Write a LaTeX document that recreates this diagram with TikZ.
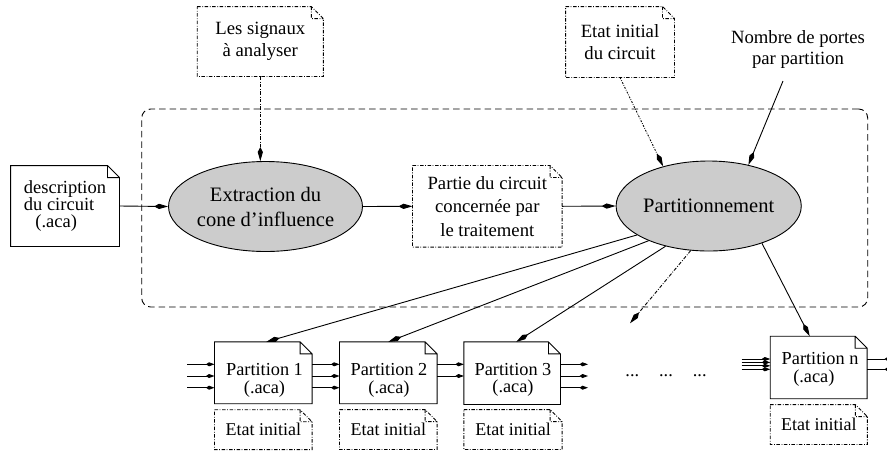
\documentclass[tikz,border=0pt]{standalone}
\usepackage{fontspec}
\setmainfont{Liberation Serif}
\usetikzlibrary{arrows.meta,shapes.geometric}

% outline of a note with a folded top-right corner, drawn round node #2
\newcommand\notefold[2][]{%
  \draw[#1] (#2.north west) -- ([xshift=-12pt]#2.north east)
    -- ([yshift=-12pt]#2.north east) -- (#2.south east) -- (#2.south west) -- cycle
    ([xshift=-12pt]#2.north east) |- ([yshift=-12pt]#2.north east);}

\begin{document}
\begin{tikzpicture}[x=1pt,y=-1pt,line width=0.9pt,
  ell/.style={ellipse,draw,fill=gray!40,minimum width=172pt,minimum height=90pt,
    inner sep=0pt,align=center,font=\fontsize{20.5}{25}\selectfont},
  note/.style={inner sep=0pt,align=center,font=\fontsize{18.7}{22.5}\selectfont},
  ptext/.style={inner sep=0pt,align=center,font=\fontsize{18.3}{17.5}\selectfont},
  etat/.style={note,minimum height=39pt,font=\fontsize{18}{20}\selectfont},
  dashdot/.style={dash pattern=on 3.5pt off 1.6pt on 0.8pt off 1.6pt},
  dotline/.style={dash pattern=on 1.8pt off 1.4pt on 0.7pt off 1.4pt},
  link/.style={-{Kite[length=14pt,width=5.2pt,inset=5pt]}},
  flow/.style={-{Kite[length=8.5pt,width=4pt,inset=3pt]}},
  zone/.style={draw,dash pattern=on 6.5pt off 4pt,rounded corners=9pt}]

\useasboundingbox (0,0) rectangle (887,451);

% processing frame
\node[zone,minimum width=726pt,minimum height=198pt] (frame) at (504.7,208) {};

% inputs
\node[note,minimum width=108pt,minimum height=80pt,
  align=left,font=\fontsize{18.5}{17}\selectfont] (desc) at (65,206)
  {description\\du circuit\\\hspace{11.5pt}(.aca)};
\notefold{desc}
\node[note,minimum width=125.3pt,minimum height=69pt] (LS) at (260.3,41.5)
  {Les signaux\\à analyser};
\notefold[dashdot]{LS}
\node[note,minimum width=108pt,minimum height=70pt] (EC) at (620,42)
  {Etat initial\\du circuit};
\notefold[dashdot]{EC}
\node[note,font=\fontsize{18.7}{21}\selectfont] (NB) at (798,49.5)
  {Nombre de portes\\par partition};
\coordinate (nbstart) at (783,81);

% processing steps
\node[ell] (Ex) at (265.5,206.5) {Extraction du\\cone d'influence};
\node[note,minimum width=148.7pt,minimum height=80.7pt,
  font=\fontsize{18.7}{23.3}\selectfont] (Pa) at (487.3,206.3)
  {Partie du circuit\\concernée par\\le traitement};
\notefold[dashdot]{Pa}
\node[ell] (Pt) at (708.7,206) {Partitionnement};

\draw[link] (desc.east) -- (Ex.west);
\draw[link,dashdot] (LS.south) -- (LS.south |- Ex.north);
\draw[link] (Ex.east) -- (Pa.west);
\draw[link] (Pa.east) -- (Pt.west);
\draw[link,dotline] (EC.south) -- (Pt.139);
\draw[link] (nbstart) -- (Pt.46);

% partitions
\node[minimum width=96.7pt,minimum height=61pt,inner sep=0pt] (P1) at (263.3,372.8) {};
\node[minimum width=96.7pt,minimum height=61pt,inner sep=0pt] (P2) at (388.3,372.8) {};
\node[minimum width=95.7pt,minimum height=61.7pt,inner sep=0pt] (P3) at (512.2,373.2) {};
\node[minimum width=96pt,minimum height=61.6pt,inner sep=0pt] (Pn) at (818.7,367.5) {};
\foreach \p in {P1,P2,P3,Pn} {\notefold{\p}}
\node[ptext] (P1t) at (264.5,380.5) {Partition 1\\(.aca)};
\node[ptext] (P2t) at (389,380.5) {Partition 2\\(.aca)};
\node[ptext] (P3t) at (513,380) {Partition 3\\(.aca)};
\node[ptext,align=left] (Pnt) at (820.1,369.6) {Partition n\\\hspace{11.6pt}(.aca)};

\node[etat,minimum width=96.7pt] (E1) at (263.3,429.7) {Etat initial};
\node[etat,minimum width=96.7pt] (E2) at (388.3,429.5) {Etat initial};
\node[etat,minimum width=97.4pt] (E3) at (513,429.5) {Etat initial};
\node[etat,minimum width=96.3pt] (En) at (818.8,424.5) {Etat initial};
\foreach \e in {E1,E2,E3,En} {\notefold[dashdot]{\e}}

\node[inner sep=0pt,anchor=base west,font=\fontsize{18.3}{20}\selectfont] (dots)
  at (625,376) {...\hspace{20pt}...\hspace{20pt}...};

% from the partitioner to each partition
\coordinate (more) at (630,323.3);
\draw[link] (Pt.202) -- ([xshift=3pt]P1.north);
\draw[link] (Pt.210.6) -- (P2.north);
\draw[link] (Pt.223) -- ([xshift=4pt]P3.north);
\draw[link,dashdot] (Pt.248) -- (more);
\draw[link] (Pt.325) -- ([xshift=-9pt]Pn.north);

% signal rows between partitions
\coordinate (ya) at (0,364.3);
\coordinate (yb) at (0,376);
\coordinate (yc) at (0,387.7);
\coordinate (srcA) at (187,0);
\coordinate (outA) at (588,0);
\coordinate (srcN) at (741.7,0);
\coordinate (outN) at (893,0);
\coordinate (yn1) at (0,359);
\coordinate (yn2) at (0,362.4);
\coordinate (yn3) at (0,365.8);
\coordinate (yn4) at (0,369.3);
\foreach \r in {ya,yb,yc} {
  \draw[flow] (srcA |- \r) -- (P1.west |- \r);
  \draw[flow] (P1.east |- \r) -- (P2.west |- \r);
  \draw[flow] (P3.east |- \r) -- (outA |- \r);
}
\foreach \r in {ya,yb} {\draw[flow] (P2.east |- \r) -- (P3.west |- \r);}
\foreach \r in {yn1,yn2,yn3,yn4} {\draw[flow] (srcN |- \r) -- (Pn.west |- \r);}
\foreach \r in {yn1,yn4} {\draw[flow] (Pn.east |- \r) -- (outN |- \r);}
\end{tikzpicture}
\end{document}
